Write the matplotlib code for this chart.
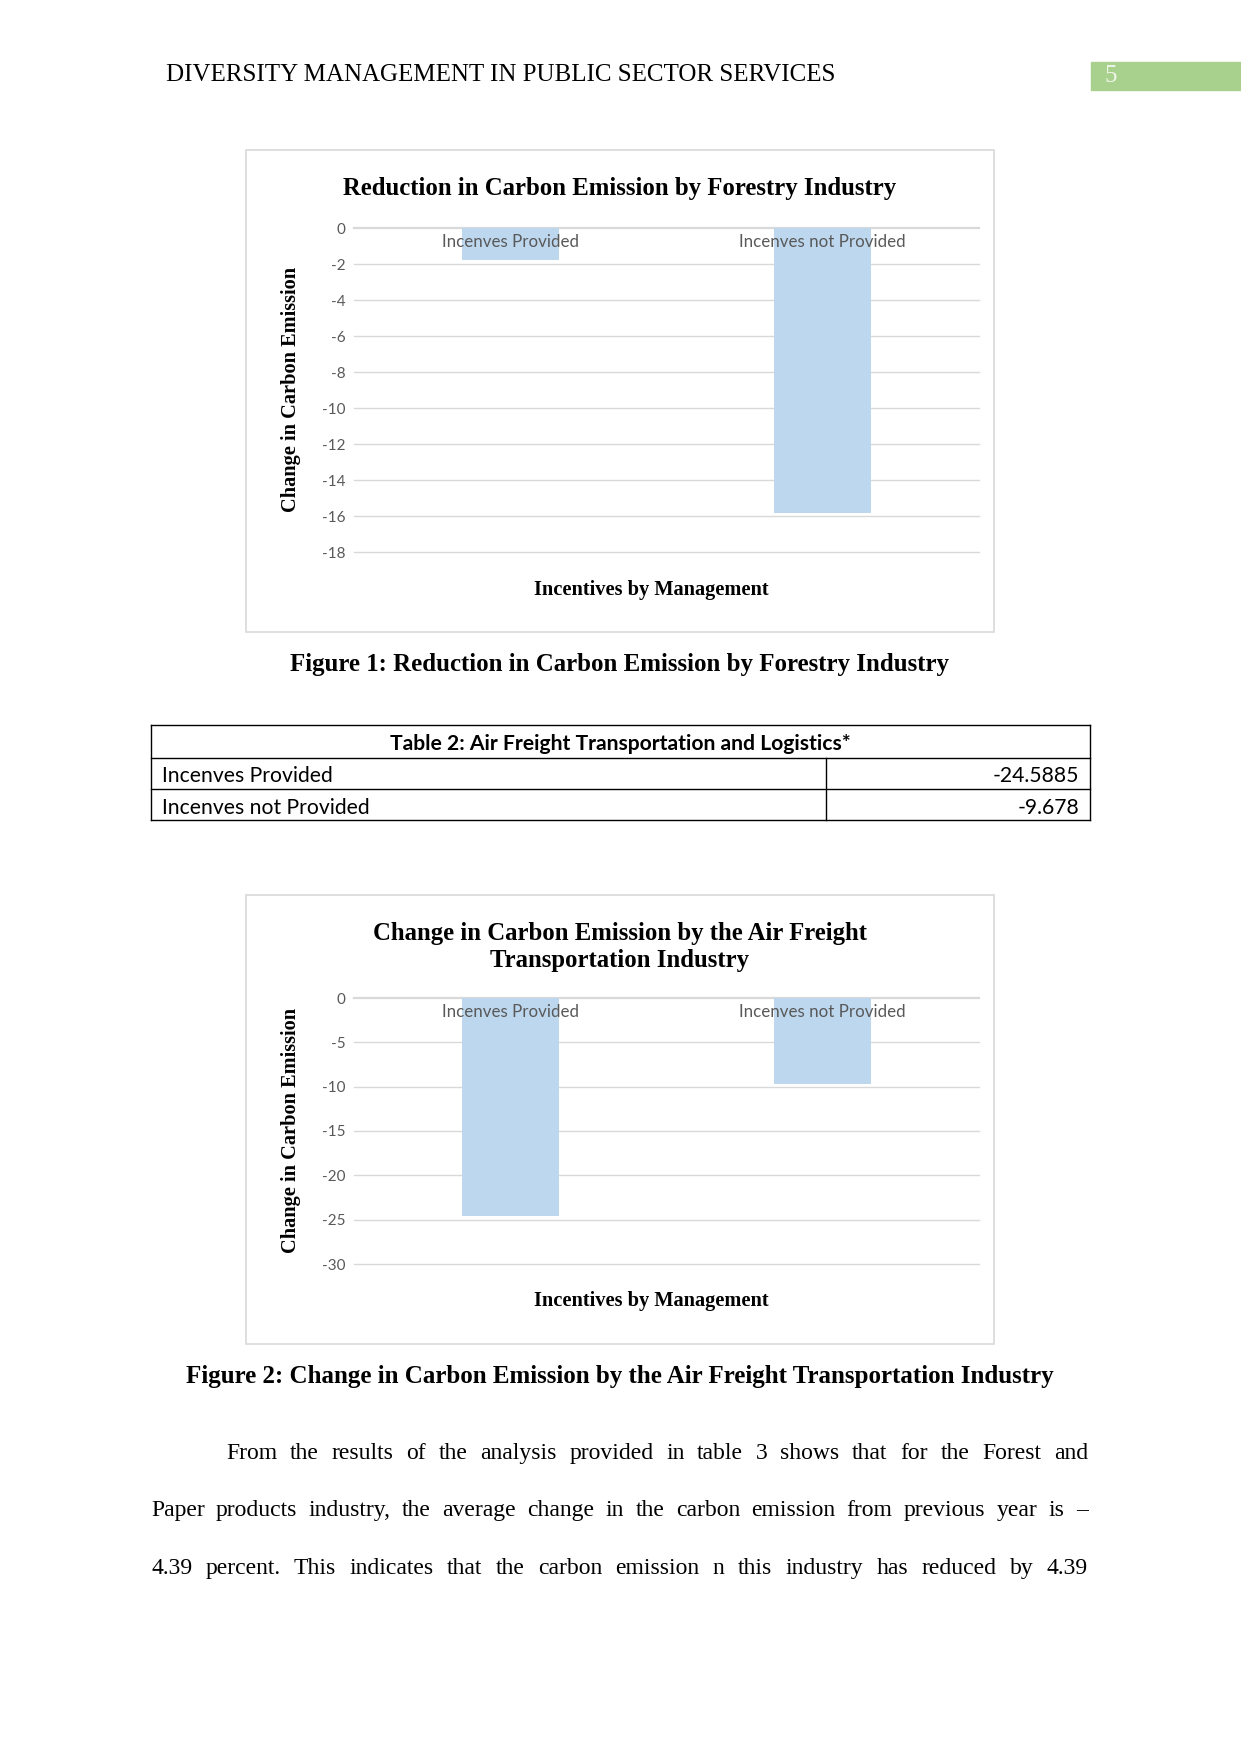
import numpy as np
import matplotlib.pyplot as plt
from matplotlib.patches import Rectangle
from matplotlib.lines import Line2D

W, H = 1241, 1754

# data
categories = ["Incenves Provided", "Incenves not Provided"]
forestry_change = [-1.78, -15.85]
air_freight_change = [-24.5885, -9.678]
forestry_ticks = list(range(-18, 1, 2))
air_ticks = list(range(-30, 1, 5))

table_title = "Table 2: Air Freight Transportation and Logistics*"
table_rows = ["Incenves Provided", "Incenves not Provided"]
table_vals = ["-24.5885", "-9.678"]

paragraph = [
    "From the results of the analysis provided in table 3 shows that for the Forest and",
    "Paper products industry, the average change in the carbon emission from previous year is \u2013",
    "4.39 percent. This indicates that the carbon emission n this industry has reduced by 4.39",
]

SERIF = "Liberation Serif"
SANS = ["Lato", "DejaVu Sans"]
BAR = "#BDD7EE"
GRID = "#D9D9D9"
TICK = "#595959"


def fx(x):
    return x / W


def fy(y):
    return 1 - y / H


fig = plt.figure(figsize=(W / 100, H / 100), dpi=100)

# page header
fig.text(fx(166), fy(75), "DIVERSITY MANAGEMENT IN PUBLIC SECTOR SERVICES",
         family=SERIF, fontsize=18, va="center", ha="left")
fig.patches.append(Rectangle((fx(1091), fy(90)), fx(150), (90 - 62) / H,
                             transform=fig.transFigure, color="#A9D18E", zorder=0))
fig.text(fx(1111), fy(76), "5", family=SERIF, fontsize=18, color="#EEF5E8",
         va="center", ha="center")


def chart_box(x0, y0, x1, y1):
    fig.patches.append(Rectangle((fx(x0), fy(y1)), (x1 - x0) / W, (y1 - y0) / H,
                                 transform=fig.transFigure, fill=False,
                                 edgecolor=GRID, linewidth=1.2))


def bar_chart(top, bottom, values, ticks, label_y):
    ax = fig.add_axes([fx(354), fy(bottom), (979 - 354) / W, (bottom - top) / H])
    x = np.arange(len(categories))
    ax.bar(x, values, width=0.31, color=BAR, zorder=2)
    ax.set_xlim(-0.5, 1.5)
    ax.set_ylim(ticks[0], ticks[-1])
    ax.set_yticks(ticks)
    ax.set_yticklabels([str(t) for t in ticks], family=SANS, fontsize=11, color=TICK)
    ax.set_xticks([])
    for t in ticks[:-1]:
        ax.axhline(t, color=GRID, linewidth=1, zorder=0, clip_on=False)
    ax.tick_params(axis="y", length=0, pad=6)
    for s in ax.spines.values():
        s.set_visible(False)
    ax.axhline(0, color=GRID, linewidth=1.6, zorder=1, clip_on=False)
    ly = ticks[0] + (ticks[-1] - ticks[0]) * (bottom - label_y) / (bottom - top)
    for xi, c in zip(x, categories):
        ax.text(xi, ly, c, family=SANS, fontsize=12.2,
                color=TICK, ha="center", va="center", zorder=3)
    return ax


# chart 1
chart_box(246, 150, 994, 632)
fig.text(fx(620), fy(189), "Reduction in Carbon Emission by Forestry Industry",
         family=SERIF, fontsize=17.8, weight="bold", ha="center", va="center")
bar_chart(228, 552, forestry_change, forestry_ticks, 242)
fig.text(fx(291), fy(389), "Change in Carbon Emission", family=SERIF, fontsize=14.7,
         weight="bold", rotation=90, ha="center", va="center")
fig.text(fx(651), fy(590), "Incentives by Management", family=SERIF, fontsize=14.7,
         weight="bold", ha="center", va="center")
fig.text(fx(620), fy(665), "Figure 1: Reduction in Carbon Emission by Forestry Industry",
         family=SERIF, fontsize=17.9, weight="bold", ha="center", va="center")

# table
tx0, tx1, tdiv = 151, 1090, 826
ty = [725, 758, 789, 820]
for y in ty:
    fig.add_artist(Line2D([fx(tx0), fx(tx1)], [fy(y), fy(y)], color="black", linewidth=1))
fig.add_artist(Line2D([fx(tx0), fx(tx0)], [fy(ty[0]), fy(ty[-1])], color="black", linewidth=1))
fig.add_artist(Line2D([fx(tx1), fx(tx1)], [fy(ty[0]), fy(ty[-1])], color="black", linewidth=1))
fig.add_artist(Line2D([fx(tdiv), fx(tdiv)], [fy(ty[1]), fy(ty[-1])], color="black", linewidth=1))
fig.text(fx(620), fy((ty[0] + ty[1]) / 2 + 3), table_title, family=SANS, fontsize=15.2,
         weight="bold", ha="center", va="center")
for i, (r, v) in enumerate(zip(table_rows, table_vals)):
    yc = fy((ty[i + 1] + ty[i + 2]) / 2 + 3)
    fig.text(fx(162), yc, r, family=SANS, fontsize=15.2, ha="left", va="center")
    fig.text(fx(1079), yc, v, family=SANS, fontsize=15.2, ha="right", va="center")

# chart 2
chart_box(246, 895, 994, 1344)
fig.text(fx(620), fy(947), "Change in Carbon Emission by the Air Freight\nTransportation Industry",
         family=SERIF, fontsize=17.8, weight="bold", ha="center", va="center", linespacing=1.2)
bar_chart(998, 1264, air_freight_change, air_ticks, 1012)
fig.text(fx(291), fy(1130), "Change in Carbon Emission", family=SERIF, fontsize=14.7,
         weight="bold", rotation=90, ha="center", va="center")
fig.text(fx(651), fy(1301), "Incentives by Management", family=SERIF, fontsize=14.7,
         weight="bold", ha="center", va="center")
fig.text(fx(620), fy(1377), "Figure 2: Change in Carbon Emission by the Air Freight Transportation Industry",
         family=SERIF, fontsize=18, weight="bold", ha="center", va="center")

# justified paragraph
renderer = fig.canvas.get_renderer()
line_y = [1459, 1516, 1574]
starts = [226, 151, 151]
right = 1088
for line, y, x0 in zip(paragraph, line_y, starts):
    words = line.split(" ")
    texts = [fig.text(0, fy(y), w, family=SERIF, fontsize=17, va="baseline", ha="left")
             for w in words]
    widths = [t.get_window_extent(renderer).width for t in texts]
    gap = (right - x0 - sum(widths)) / (len(words) - 1)
    x = x0
    for t, w in zip(texts, widths):
        t.set_x(fx(x))
        x += w + gap

fig.savefig("out.png", dpi=100)
